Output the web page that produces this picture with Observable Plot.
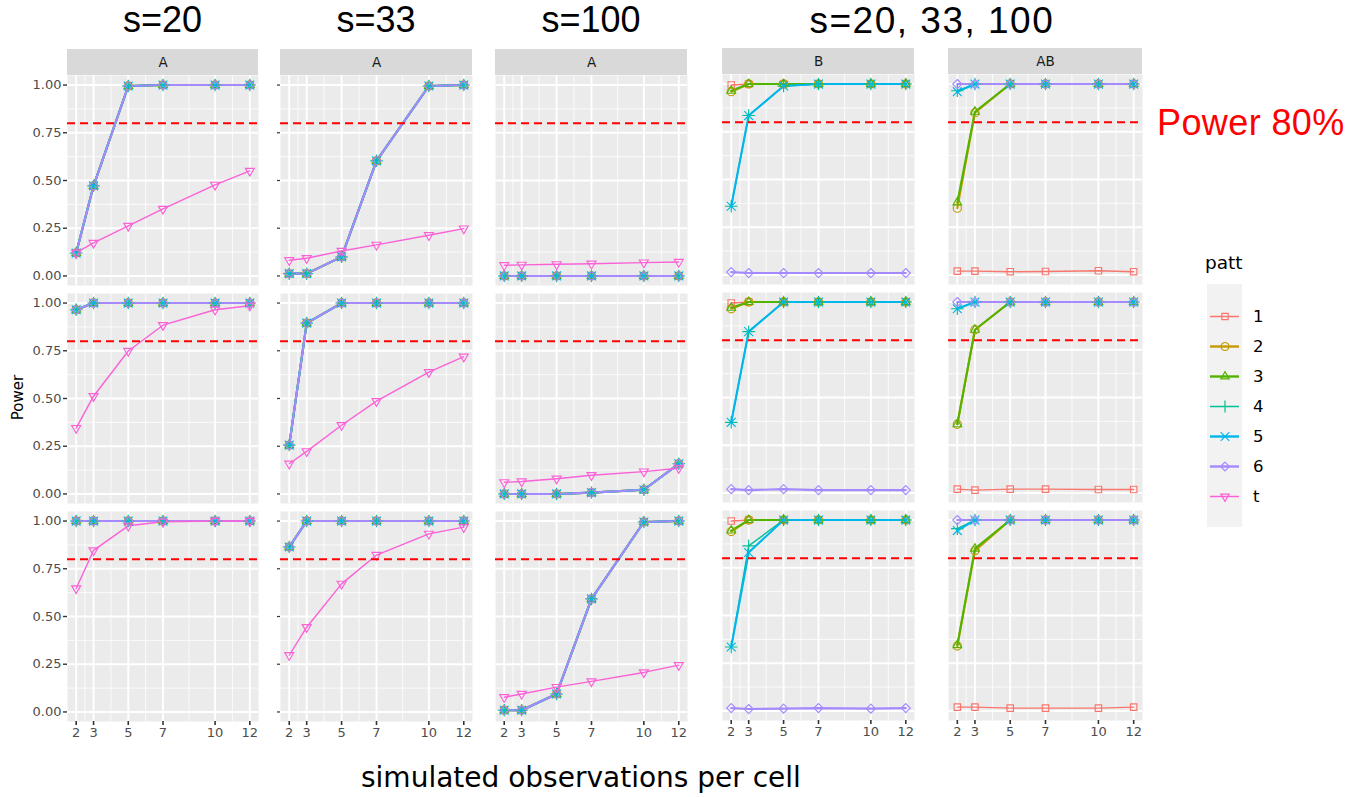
<!DOCTYPE html>
<html><head><meta charset="utf-8">
<script src="https://cdn.jsdelivr.net/npm/d3@7"></script>
<script src="https://cdn.jsdelivr.net/npm/@observablehq/plot@0.6"></script>
<style>
body{margin:0;background:#fff;}
#root{position:relative;width:1360px;height:797px;overflow:hidden;background:#fff;}
.t{position:absolute;white-space:nowrap;line-height:1;}
</style></head><body><div id="root"></div>
<script>
// ---------- data ----------
const obs = [2, 3, 5, 7, 10, 12];
const patts = ["1", "2", "3", "4", "5", "6", "t"];
const pattColors = ["#F8766D", "#C49A00", "#53B400", "#00C094", "#00B6EB", "#A58AFF", "#FB61D7"];
const pattSymbols = ["square2", "circle", "triangle2", "plus", "times", "diamond2", "triangle2"];
const thickPatts = ["2", "3", "5", "6"];
const yTicks = [0, 0.25, 0.5, 0.75, 1];
const yTickLabels = ["0.00", "0.25", "0.50", "0.75", "1.00"];
const yMinor = [0.125, 0.375, 0.625, 0.875];
const xMinor = [2.5, 4, 6, 8.5, 11];
const powerTarget = 0.8;
const colTitles = ["s=20", "s=33", "s=100", "s=20, 33, 100"];
const stripLabels = ["A", "A", "A", "B", "AB"];

// Factor A: patterns 1-6 (identical, overlapping) and t; one entry per row
const A_s20_p = [[0.12, 0.472, 0.995, 1, 1, 1], [0.965, 1, 1, 1, 1, 1], [1, 1, 1, 1, 1, 1]];
const A_s20_t = [[0.122, 0.173, 0.262, 0.351, 0.477, 0.55], [0.345, 0.512, 0.749, 0.884, 0.965, 0.986], [0.647, 0.846, 0.975, 0.996, 1, 1]];
const A_s33_p = [[0.012, 0.012, 0.10, 0.603, 0.995, 1], [0.256, 0.895, 1, 1, 1, 1], [0.864, 1, 1, 1, 1, 1]];
const A_s33_t = [[0.082, 0.093, 0.131, 0.163, 0.213, 0.248], [0.158, 0.223, 0.36, 0.486, 0.638, 0.719], [0.297, 0.444, 0.671, 0.822, 0.933, 0.968]];
const A_s100_p = [[0, 0, 0, 0, 0, 0], [0, 0, 0, 0.007, 0.022, 0.158], [0.009, 0.009, 0.094, 0.592, 0.995, 1]];
const A_s100_t = [[0.056, 0.058, 0.061, 0.064, 0.07, 0.073], [0.061, 0.065, 0.08, 0.098, 0.117, 0.135], [0.077, 0.094, 0.13, 0.16, 0.207, 0.245]];

// Factor B (patterns 1..6), rows 1..3
const B_row1 = [[0.995, 1, 1, 1, 1, 1], [0.96, 1, 1, 1, 1, 1], [0.965, 1, 1, 1, 1, 1], [0.36, 0.835, 0.99, 1, 1, 1], [0.36, 0.835, 0.99, 1, 1, 1], [0.015, 0.01, 0.01, 0.01, 0.01, 0.01]];
const B_row2 = [[0.995, 1, 1, 1, 1, 1], [0.965, 1, 1, 1, 1, 1], [0.97, 1, 1, 1, 1, 1], [0.37, 0.845, 1, 1, 1, 1], [0.37, 0.845, 1, 1, 1, 1], [0.02, 0.015, 0.02, 0.015, 0.015, 0.015]];
const B_row3 = [[0.995, 1, 1, 1, 1, 1], [0.94, 1, 1, 1, 1, 1], [0.945, 1, 1, 1, 1, 1], [0.335, 0.865, 1, 1, 1, 1], [0.335, 0.83, 1, 1, 1, 1], [0.015, 0.01, 0.012, 0.015, 0.012, 0.015]];
// Interaction AB (patterns 1..6), rows 1..3
const AB_row1 = [[0.02, 0.02, 0.017, 0.018, 0.022, 0.017], [0.35, 0.85, 1, 1, 1, 1], [0.38, 0.855, 1, 1, 1, 1], [0.965, 1, 1, 1, 1, 1], [0.96, 1, 1, 1, 1, 1], [1, 1, 1, 1, 1, 1]];
const AB_row2 = [[0.02, 0.015, 0.02, 0.02, 0.018, 0.018], [0.36, 0.855, 1, 1, 1, 1], [0.36, 0.855, 1, 1, 1, 1], [0.965, 1, 1, 1, 1, 1], [0.965, 1, 1, 1, 1, 1], [1, 1, 1, 1, 1, 1]];
const AB_row3 = [[0.02, 0.02, 0.015, 0.015, 0.015, 0.02], [0.34, 0.84, 1, 1, 1, 1], [0.345, 0.85, 1, 1, 1, 1], [0.955, 1, 1, 1, 1, 1], [0.945, 1, 1, 1, 1, 1], [1, 1, 1, 1, 1, 1]];

// ---------- helpers ----------
const root = document.getElementById("root");
function place(el, left, top) { el.style.position = "absolute"; el.style.left = left + "px"; el.style.top = top + "px"; root.appendChild(el); return el; }
function label(text, left, top, css) { const d = document.createElement("div"); d.className = "t"; d.textContent = text; Object.assign(d.style, css); return place(d, left, top); }

function recordsA(pVals, tVals) {
  const out = [];
  for (let p = 0; p < 6; p++) obs.forEach((x, i) => out.push({x, y: pVals[i], patt: patts[p]}));
  obs.forEach((x, i) => out.push({x, y: tVals[i], patt: "t"}));
  return out;
}
function recordsB(rowArr) {
  const out = [];
  rowArr.forEach((vals, p) => obs.forEach((x, i) => out.push({x, y: vals[i], patt: patts[p]})));
  return out;
}

const FONT = "'DejaVu Sans', sans-serif";
const colLeft = [67, 280, 495, 722, 948];
const colWidth = [191, 192, 192, 192, 194];
const colShift = [0, 0, 0, -1, -1];
const rowTop = [75, 292.5, 510.5];
const panelH = 210;

function panelPlot(data, col, row) {
  const ml = col === 0 ? 44 : (col === 1 ? 4 : 0);
  const mb = row === 2 ? 26 : 0;
  const marks = [
    Plot.frame({fill: "#EBEBEB", stroke: "none"}),
    Plot.gridY(yMinor, {stroke: "#fff", strokeOpacity: 1, strokeWidth: 0.8}),
    Plot.gridX(xMinor, {stroke: "#fff", strokeOpacity: 1, strokeWidth: 0.8}),
    Plot.gridY(yTicks, {stroke: "#fff", strokeOpacity: 1, strokeWidth: 1.9}),
    Plot.gridX(obs, {stroke: "#fff", strokeOpacity: 1, strokeWidth: 1.9})
  ];
  for (const p of patts) {
    const d = data.filter(r => r.patt === p);
    if (!d.length) continue;
    marks.push(Plot.line(d, {x: "x", y: "y", stroke: "patt", strokeWidth: thickPatts.includes(p) ? 2.1 : 1.4}));
  }
  for (const p of patts) {
    const d = data.filter(r => r.patt === p);
    if (!d.length) continue;
    marks.push(Plot.dot(d, {x: "x", y: "y", stroke: "patt", symbol: "patt", fill: "none", r: p === "t" ? 4.3 : 4.1, strokeWidth: 1.15, rotate: p === "t" ? 180 : 0}));
  }
  marks.push(Plot.ruleY([powerTarget], {stroke: "#FF0000", strokeWidth: 2.2, strokeDasharray: "8,5"}));
  if (col === 0) marks.push(Plot.axisY(yTicks, {tickSize: 4, tickPadding: 2, fontSize: 13, fill: "#4D4D4D", stroke: "#333", strokeWidth: 1.4, label: null, tickFormat: d => yTickLabels[yTicks.indexOf(d)]}));
  if (col === 1) marks.push(Plot.axisY(yTicks, {tickSize: 3, tickPadding: 0, fontSize: 1, stroke: "#333", strokeWidth: 1.2, label: null, tickFormat: () => ""}));
  if (row === 2) marks.push(Plot.axisX(obs, {tickSize: 4, tickPadding: 2, fontSize: 13, fill: "#4D4D4D", stroke: "#333", strokeWidth: 1.6, label: null}));
  const svg = Plot.plot({
    width: ml + colWidth[col], height: panelH + mb,
    marginLeft: ml, marginRight: 0, marginTop: 0, marginBottom: mb,
    x: {domain: [1.5, 12.5], axis: null},
    y: {domain: [-0.05, 1.05], axis: null},
    color: {domain: patts, range: pattColors},
    symbol: {domain: patts, range: pattSymbols},
    style: {fontFamily: FONT, background: "transparent", overflow: "visible"},
    marks
  });
  place(svg, colLeft[col] - ml, rowTop[row] + colShift[col]);
}

function stripPlot(col) {
  const lab = stripLabels[col];
  const svg = Plot.plot({
    width: colWidth[col], height: 26, margin: 0,
    x: {domain: [lab], padding: 0, axis: null},
    style: {fontFamily: FONT, background: "transparent"},
    marks: [
      Plot.cell([lab], {x: d => d, fill: "#D9D9D9"}),
      Plot.text([lab], {x: d => d, text: d => d, fontSize: 13.5, fill: "#1A1A1A"})
    ]
  });
  place(svg, colLeft[col], 48.5 + colShift[col]);
}

// ---------- panels ----------
const Adata = [[A_s20_p, A_s20_t], [A_s33_p, A_s33_t], [A_s100_p, A_s100_t]];
for (let c = 0; c < 3; c++) {
  stripPlot(c);
  for (let r = 0; r < 3; r++) panelPlot(recordsA(Adata[c][0][r], Adata[c][1][r]), c, r);
}
const Brows = [B_row1, B_row2, B_row3];
const ABrows = [AB_row1, AB_row2, AB_row3];
stripPlot(3); stripPlot(4);
for (let r = 0; r < 3; r++) { panelPlot(recordsB(Brows[r]), 3, r); panelPlot(recordsB(ABrows[r]), 4, r); }

// ---------- titles ----------
const TFONT = "'Liberation Sans', Arial, sans-serif";
const titleCenters = [162.5, 376, 591, 932];
colTitles.forEach((t, i) => {
  const css = {fontFamily: TFONT, fontSize: "36px", color: "#000"};
  if (i === 3) { css.fontSize = "37px"; css.letterSpacing = "1.5px"; }
  const d = label(t, 0, 2, css);
  d.style.left = (titleCenters[i] - d.offsetWidth / 2) + "px";
});
label("Power 80%", 1157, 105, {fontFamily: TFONT, fontSize: "36px", color: "#FF0000", letterSpacing: "0.4px"});

// axis titles
const xt = label("simulated observations per cell", 0, 764, {fontFamily: FONT, fontSize: "28px", color: "#000"});
xt.style.left = (581 - xt.offsetWidth / 2) + "px";
const yt = label("Power", 0, 0, {fontFamily: FONT, fontSize: "15px", color: "#000"});
yt.style.left = (18 - yt.offsetWidth / 2) + "px";
yt.style.top = (397.5 - yt.offsetHeight / 2) + "px";
yt.style.transform = "rotate(-90deg)";

// ---------- legend ----------
label("patt", 1205, 254, {fontFamily: FONT, fontSize: "18.5px", color: "#000"});
const keyBg = document.createElement("div");
Object.assign(keyBg.style, {width: "35px", height: "243px", background: "#F2F2F2"});
place(keyBg, 1206.5, 283.5);
const legend = Plot.plot({
  width: 120, height: 250, margin: 0,
  x: {domain: [0, 1], range: [15, 44], axis: null},
  y: {type: "point", domain: patts, range: [21, 231], axis: null},
  color: {domain: patts, range: pattColors},
  symbol: {domain: patts, range: pattSymbols},
  style: {fontFamily: FONT, background: "transparent", overflow: "visible"},
  marks: [
    Plot.ruleY(patts, {y: d => d, x1: 0, x2: 1, stroke: d => d, strokeWidth: d => thickPatts.includes(d) ? 2.4 : 1.5}),
    Plot.dot(patts, {x: () => 0.5, y: d => d, stroke: d => d, symbol: d => d, fill: "none", r: 4, strokeWidth: 1.2, rotate: d => d === "t" ? 180 : 0}),
    Plot.text(patts, {x: () => 1, dx: 13.5, y: d => d, text: d => d, textAnchor: "start", fontSize: 16.5, fill: "#000"})
  ]
});
place(legend, 1195, 280);
</script></body></html>
